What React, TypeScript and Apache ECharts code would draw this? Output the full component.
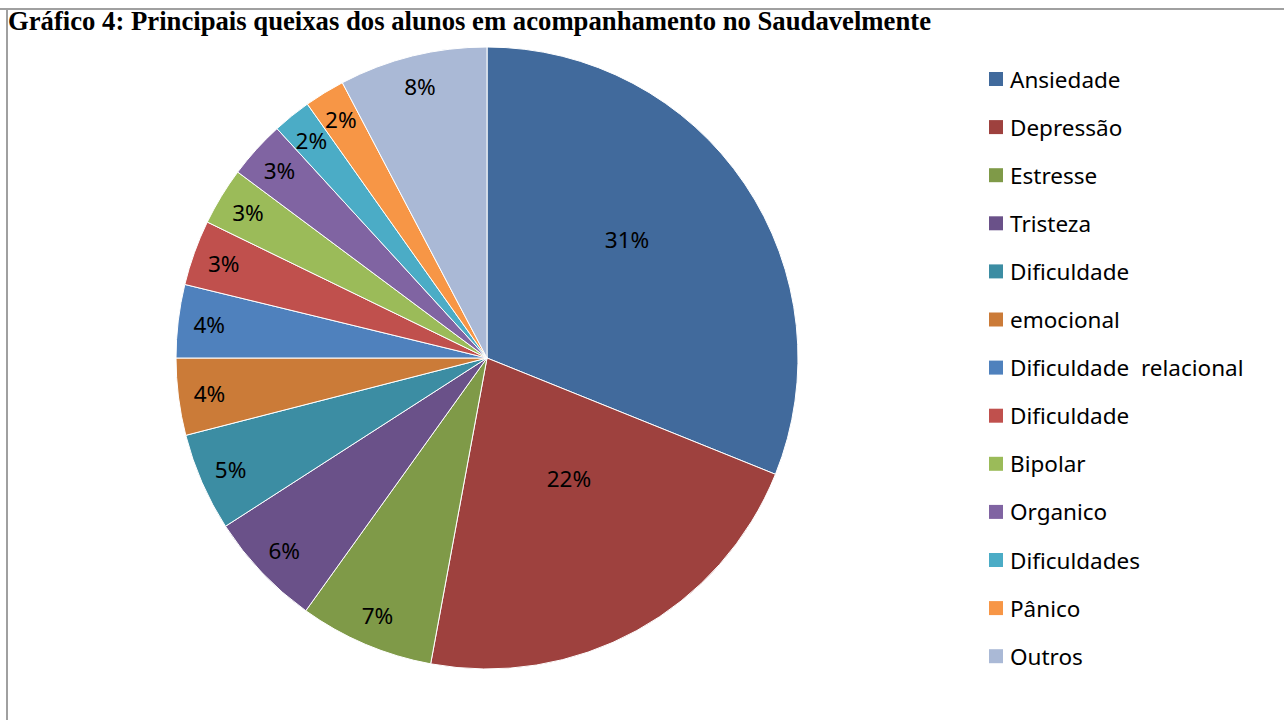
import React, { useEffect, useRef } from "react";
import * as echarts from "echarts";

const titleText = "Gráfico 4: Principais queixas dos alunos em acompanhamento no Saudavelmente";
const categories = [
  "Ansiedade",
  "Depressão",
  "Estresse",
  "Tristeza",
  "Dificuldade",
  "emocional",
  "Dificuldade  relacional",
  "Dificuldade",
  "Bipolar",
  "Organico",
  "Dificuldades",
  "Pânico",
  "Outros",
];
const values = [31.1, 21.8, 7.0, 6.0, 5.1, 4.0, 3.8, 3.4, 3.0, 3.0, 2.0, 2.1, 7.7];
const colors = [
  "#416A9C",
  "#9E413E",
  "#7F9A48",
  "#6A5189",
  "#3C8DA3",
  "#CB7B38",
  "#4F81BD",
  "#C0504D",
  "#9BBB59",
  "#8064A2",
  "#4BACC6",
  "#F79646",
  "#AAB9D6",
];
// radial distance (fraction of radius) of each slice's percentage label
const labelDistance = [0.58, 0.47, 0.89, 0.89, 0.89, 0.89, 0.89, 0.89, 0.89, 0.89, 0.89, 0.89, 0.89];
// small nudges of label text (style only)
const labelNudge: Record<number, [number, number]> = { 0: [-12, -16], 1: [10, -10] };

const FONT = "Noto Sans";
const R = 311;
const CENTER: [number, number] = [487, 358];

export default function App() {
  const ref = useRef<HTMLDivElement>(null);
  useEffect(() => {
    if (!ref.current) return;
    const chart = echarts.init(ref.current, undefined, { renderer: "svg" });
    const keys = categories.map((c, i) => `k${i}`);
    const pct = (p: any) => Math.round(p.percent) + "%";
    const labelStyle = { color: "#000", fontFamily: FONT, fontSize: 22.5 };
    const mainData = values.map((v, i) => ({
      name: keys[i],
      value: v,
      itemStyle: { color: colors[i] },
    }));
    const distances = Array.from(new Set(labelDistance));
    const labelSeries = distances.map((d) => ({
      type: "pie",
      center: CENTER,
      radius: [R * d - 8, R * d + 8],
      startAngle: 90,
      clockwise: true,
      silent: true,
      avoidLabelOverlap: false,
      labelLayout: { hideOverlap: false },
      data: values.map((v, i) => ({
        name: keys[i],
        value: v,
        itemStyle: { color: "rgba(0,0,0,0)" },
        label: { show: labelDistance[i] === d, offset: labelNudge[i] || [0, 0] },
      })),
      label: { position: "inside", formatter: pct, ...labelStyle, lineHeight: 20 },
      labelLine: { show: false },
      emphasis: { disabled: true },
    }));
    chart.setOption({
      animation: false,
      title: {
        text: titleText,
        left: 8,
        top: 7,
        padding: 0,
        textStyle: {
          fontFamily: "Liberation Serif",
          fontWeight: "bold",
          fontSize: 26.7,
          color: "#000",
        },
      },
      legend: {
        orient: "vertical",
        left: 989,
        top: 67,
        padding: 0,
        icon: "rect",
        itemWidth: 14,
        itemHeight: 14,
        itemGap: 24.1,
        itemStyle: { borderWidth: 0 },
        data: keys,
        selectedMode: false,
        formatter: (name: string) => categories[keys.indexOf(name)],
        textStyle: { ...labelStyle, lineHeight: 24, padding: [0, 0, 0, 2] },
      },
      graphic: [
        {
          type: "line",
          shape: { x1: 0, y1: 9, x2: 1284, y2: 9 },
          style: { stroke: "#a0a0a0", lineWidth: 2 },
          silent: true,
        },
        {
          type: "line",
          shape: { x1: 7, y1: 9, x2: 7, y2: 720 },
          style: { stroke: "#a0a0a0", lineWidth: 2 },
          silent: true,
        },
      ],
      series: [
        {
          type: "pie",
          center: CENTER,
          radius: [0, R],
          startAngle: 90,
          clockwise: true,
          data: mainData,
          itemStyle: { borderColor: "#fff", borderWidth: 1 },
          label: { show: false },
          labelLine: { show: false },
          emphasis: { disabled: true },
        },
        ...labelSeries,
      ],
    });
    return () => chart.dispose();
  }, []);
  return (
    <div
      ref={ref}
      style={{ position: "fixed", left: 0, top: 0, width: 1284, height: 720, background: "#fff" }}
    />
  );
}
